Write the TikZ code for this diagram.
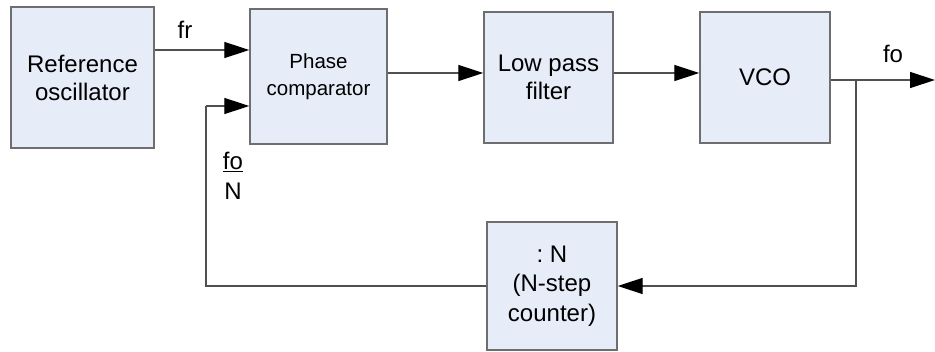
\documentclass[tikz,border=0pt]{standalone}
\usepackage{fontspec}
\setmainfont{Liberation Sans}
\usetikzlibrary{arrows.meta}

\definecolor{BoxFill}{RGB}{230,237,248}
\definecolor{BoxLine}{RGB}{110,110,110}
\definecolor{WireLine}{RGB}{80,80,80}

\begin{document}
\begin{tikzpicture}[x=1pt,y=-1pt,
  Block/.style={draw=BoxLine, fill=BoxFill, line width=1.4pt, align=center, inner sep=0pt,
    font=\fontsize{24}{28}\selectfont},
  Wire/.style={draw=WireLine, line width=1.3pt, -{Triangle[length=25pt,width=16pt,color=black]}},
  Plain/.style={draw=WireLine, line width=1.3pt},
  Lbl/.style={inner sep=0pt, align=center, font=\fontsize{24}{30}\selectfont}]

\useasboundingbox (0,0) rectangle (935,352);

% Row 1

\node[Block, minimum width=143pt, minimum height=141pt] (RefOsc) at (82.5,77.5) {Reference\\oscillator};
\node[Block, minimum width=137pt, minimum height=135pt, font=\fontsize{20.5}{27}\selectfont] (PhaseComp) at (318.5,76.5) {Phase\\comparator};
\node[Block, minimum width=129pt, minimum height=131pt] (LPF) at (548.5,77.5) {Low pass\\filter};
\node[Block, minimum width=130pt, minimum height=131pt] (VCO) at (765,77.5) {VCO};

\draw[Wire] (RefOsc.east |- 0,50) -- (PhaseComp.west |- 0,50);
\node[Lbl] (LblFr) at (185,30) {fr};

\draw[Wire] (PhaseComp.east |- 0,73) -- (LPF.west |- 0,73);
\draw[Wire] (LPF.east |- 0,73) -- (VCO.west |- 0,73);

\coordinate (Out) at (935,80);
\coordinate (Branch) at (856,80);
\draw[Wire] (VCO.east |- Out) -- (Out);
\node[Lbl] (LblFo) at (893,54) {fo};

% Row 2

\node[Block, minimum width=130pt, minimum height=128pt, font=\fontsize{24}{29.5}\selectfont] (Div) at (552,286) {:\ N\\(N-step\\counter)};

\draw[Wire] (Branch) |- (Div.east);

\coordinate (Fbk) at (206,106);
\draw[Plain] (Div.west) -| (Fbk);
\draw[Wire] (Fbk) -- (PhaseComp.west |- Fbk);
\node[Lbl] (LblFoN) at (233,176) {\underline{fo}\\N};

\end{tikzpicture}
\end{document}
